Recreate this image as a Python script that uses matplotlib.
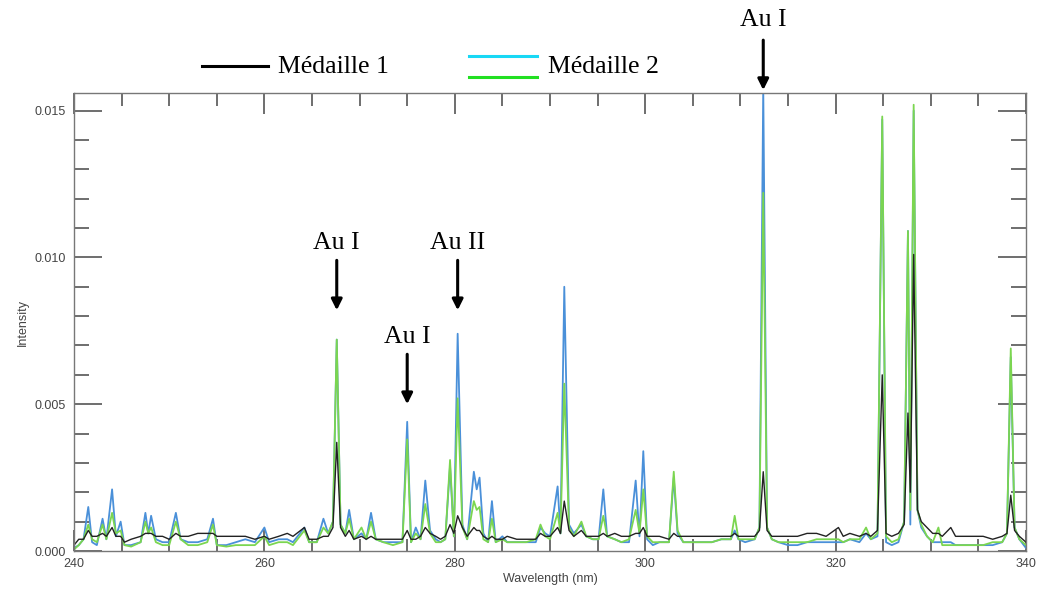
import numpy as np
import matplotlib
matplotlib.use("Agg")
import matplotlib.pyplot as plt
from matplotlib.lines import Line2D
from matplotlib.ticker import MultipleLocator

# spectrum, intensities in units of 1e-4
wavelength = [
    240.0, 240.5, 241.0, 241.5, 241.9, 242.4, 243.0, 243.4, 244.0, 244.4,
    244.9, 245.3, 246.0, 247.0, 247.5, 247.8, 248.1, 248.6, 249.3, 250.0,
    250.7, 251.2, 252.0, 253.0, 254.0, 254.6, 255.0, 256.0, 257.0, 258.0,
    259.0, 260.0, 260.5, 261.5, 262.4, 263.0, 264.2, 264.7, 265.5, 266.2,
    266.7, 267.2, 267.6, 268.0, 268.5, 268.9, 269.4, 270.2, 270.7, 271.2,
    271.7, 272.5, 273.5, 274.5, 275.0, 275.4, 275.9, 276.4, 276.9, 277.4,
    278.0, 278.5, 279.0, 279.5, 279.9, 280.3, 280.8, 281.3, 282.0, 282.3,
    282.6, 283.0, 283.5, 283.9, 284.3, 285.0, 285.5, 286.5, 287.5, 288.5,
    289.0, 289.5, 290.0, 290.8, 291.1, 291.5, 292.0, 292.5, 293.3, 293.8,
    294.5, 295.1, 295.6, 296.0, 296.8, 297.5, 298.3, 299.0, 299.4, 299.8,
    300.2, 300.8, 301.5, 302.5, 303.0, 303.4, 304.0, 305.0, 306.0, 307.0,
    308.0, 309.0, 309.4, 309.8, 310.5, 311.5, 312.0, 312.4, 312.8, 313.3,
    314.0, 315.0, 316.0, 317.0, 318.0, 319.0, 320.3, 320.8, 321.5, 322.5,
    323.2, 323.7, 324.4, 324.9, 325.3, 325.9, 326.6, 327.2, 327.6, 327.85,
    328.2, 328.6, 329.0, 329.6, 330.2, 330.8, 331.2, 332.1, 332.6, 333.5,
    334.5, 335.5, 336.5, 337.5, 338.0, 338.4, 338.8, 339.3, 340.0,
]
medaille1 = [
    2, 4, 4, 7, 5, 5, 6, 5, 8, 5,
    5, 3, 4, 5, 6, 6, 6, 5, 5, 4,
    6, 5, 5, 6, 6, 6, 5, 5, 5, 5,
    4, 5, 4, 5, 6, 5, 8, 4, 4, 5,
    5, 8, 37, 8, 5, 7, 4, 5, 4, 5,
    4, 4, 4, 4, 7, 4, 4, 5, 8, 6,
    5, 4, 5, 9, 6, 12, 8, 5, 8, 7,
    7, 5, 4, 5, 4, 4, 5, 4, 4, 4,
    6, 5, 5, 8, 6, 17, 7, 5, 7, 5,
    5, 5, 6, 5, 6, 5, 5, 6, 6, 8,
    5, 5, 5, 4, 6, 5, 5, 5, 5, 5,
    5, 5, 6, 5, 5, 5, 7, 27, 7, 5,
    5, 5, 5, 6, 6, 5, 8, 5, 6, 5,
    6, 5, 7, 60, 6, 5, 6, 9, 47, 20,
    101, 14, 10, 8, 6, 6, 5, 8, 5, 5,
    5, 5, 4, 5, 6, 19, 7, 5, 3,
]
medaille2_blue = [
    1, 2, 4, 15, 3, 2, 11, 4, 21, 5,
    10, 2, 2, 3, 13, 6, 12, 4, 3, 3,
    13, 4, 3, 3, 4, 11, 2, 2, 3, 4,
    3, 8, 3, 4, 4, 3, 8, 3, 3, 11,
    6, 10, 72, 9, 6, 14, 4, 6, 4, 13,
    4, 3, 3, 3, 44, 3, 8, 4, 24, 7,
    4, 3, 4, 29, 5, 74, 9, 4, 27, 21,
    25, 6, 3, 17, 3, 5, 3, 3, 3, 3,
    8, 6, 5, 22, 6, 90, 9, 6, 9, 5,
    4, 4, 21, 5, 4, 3, 3, 24, 5, 34,
    4, 2, 3, 3, 25, 6, 3, 3, 3, 3,
    4, 4, 7, 4, 3, 4, 8, 158, 8, 4,
    3, 2, 2, 3, 3, 3, 3, 3, 4, 3,
    6, 4, 5, 147, 3, 2, 3, 10, 109, 9,
    150, 14, 8, 5, 3, 3, 3, 3, 2, 2,
    2, 2, 2, 3, 6, 66, 8, 4, 1,
]
medaille2_green = [
    0.5, 2, 4, 9, 4, 3, 9, 4, 13, 6,
    7, 2, 1.5, 3, 10, 6, 8, 3, 2, 2,
    10, 4, 2, 2, 3, 9, 2, 1.5, 2, 2,
    2, 5, 2, 3, 3, 2, 7, 3, 3, 8,
    6, 10, 72, 9, 6, 11, 4, 8, 4, 10,
    4, 3, 2, 3, 38, 3, 6, 4, 16, 6,
    3, 3, 4, 31, 5, 52, 8, 4, 17, 14,
    15, 4, 3, 11, 3, 4, 3, 3, 3, 4,
    9, 5, 4, 13, 6, 57, 8, 5, 10, 5,
    4, 4, 12, 5, 4, 3, 4, 14, 6, 21,
    5, 3, 3, 3, 27, 7, 3, 3, 3, 3,
    4, 4, 12, 4, 4, 4, 8, 122, 8, 4,
    3, 3, 3, 3, 4, 4, 4, 3, 4, 4,
    8, 4, 6, 148, 5, 3, 4, 10, 109, 14,
    152, 14, 9, 5, 3, 8, 2, 2, 2, 2,
    2, 2, 3, 3, 6, 69, 8, 4, 2,
]

# Au line markers: (label, wavelength, text y, arrow top, arrow tip) in data y
lines_au = [
    ("Au I", 267.6, 0.01050, 0.0099, 0.0082),
    ("Au I", 275.0, 0.00730, 0.0067, 0.0050),
    ("Au II", 280.3, 0.01050, 0.0099, 0.0082),
    ("Au I", 312.4, 0.01810, 0.0174, 0.0157),
]

scale = 1e-4
wl = np.array(wavelength)
m1 = np.array(medaille1) * scale
m2b = np.array(medaille2_blue) * scale
m2g = np.array(medaille2_green) * scale

W, H = 1041, 590
fig = plt.figure(figsize=(W / 100, H / 100), dpi=100)
ax = fig.add_axes([74 / W, 1 - 551 / H, (1026 - 74) / W, (551 - 93) / H])

ax.plot(wl, m2b, color="#4a90d9", lw=1.3)
ax.plot(wl, m2g, color="#7bd650", lw=1.3)
ax.plot(wl, m1, color="#222222", lw=1.0)

ax.set_xlim(240, 340)
ax.set_ylim(0, 0.0156)
ax.xaxis.set_major_locator(MultipleLocator(20))
ax.xaxis.set_minor_locator(MultipleLocator(5))
ax.yaxis.set_major_locator(MultipleLocator(0.005))
ax.yaxis.set_minor_locator(MultipleLocator(0.001))
ax.yaxis.set_major_formatter(plt.FormatStrFormatter("%.3f"))

tick_font = "Liberation Sans"
ax.tick_params(axis="both", which="both", direction="in", top=True, right=True,
               color="#555555", labelcolor="#444444", labelsize=9)
ax.tick_params(axis="y", which="major", length=20, width=1.2, pad=6)
ax.tick_params(axis="y", which="minor", length=11, width=1.2)
ax.tick_params(axis="x", which="major", length=15, width=1.2, pad=5)
ax.tick_params(axis="x", which="minor", length=9, width=1.2)
for lab in ax.get_xticklabels() + ax.get_yticklabels():
    lab.set_fontfamily(tick_font)
for s in ax.spines.values():
    s.set_color("#777777")
    s.set_linewidth(1.0)

ax.set_xlabel("Wavelength (nm)", fontsize=9, color="#444444",
              family=tick_font, labelpad=2)
ax.set_ylabel("Intensity", fontsize=9, color="#444444",
              family=tick_font, labelpad=4)

serif = "Liberation Serif"
for label, x, ty, y0, y1 in lines_au:
    ax.text(x, ty, label, ha="center", va="center", fontsize=18.5,
            family=serif, clip_on=False)
    ax.annotate("", xy=(x, y1), xytext=(x, y0), annotation_clip=False,
                arrowprops=dict(arrowstyle="-|>", color="black", lw=2.2,
                                mutation_scale=16, shrinkA=0, shrinkB=0))

# legend drawn above the axes
def fx(px):
    return px / W

def fy(py):
    return 1 - py / H

fig.add_artist(Line2D([fx(202), fx(268)], [fy(66), fy(66)], color="black", lw=2.2))
fig.text(fx(278), fy(67), "Médaille 1", fontsize=18.5, family=serif, va="center")
fig.add_artist(Line2D([fx(469), fx(537)], [fy(56), fy(56)], color="#18d8f5", lw=2.2))
fig.add_artist(Line2D([fx(469), fx(537)], [fy(77), fy(77)], color="#22e022", lw=2.2))
fig.text(fx(548), fy(67), "Médaille 2", fontsize=18.5, family=serif, va="center")

fig.savefig("out.png", dpi=100)
